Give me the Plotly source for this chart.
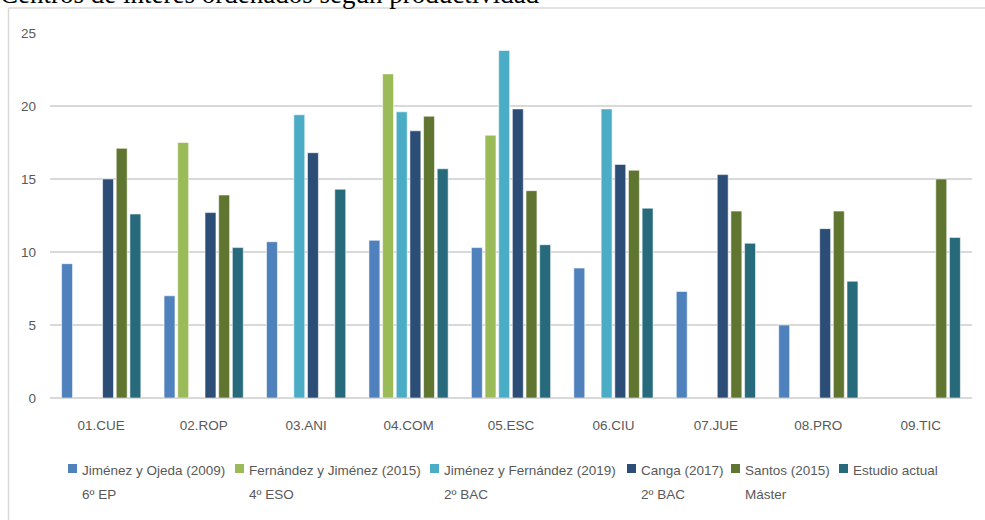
import plotly.graph_objects as go

categories = ["01.CUE", "02.ROP", "03.ANI", "04.COM", "05.ESC", "06.CIU", "07.JUE", "08.PRO", "09.TIC"]

series_names = [
    "Jiménez y Ojeda (2009)",
    "Fernández y Jiménez (2015)",
    "Jiménez y Fernández (2019)",
    "Canga (2017)",
    "Santos (2015)",
    "Estudio actual",
]
series_subtitles = ["6º EP", "4º ESO", "2º BAC", "2º BAC", "Máster", ""]

jimenez_ojeda_2009 = [9.2, 7.0, 10.7, 10.8, 10.3, 8.9, 7.3, 5.0, None]
fernandez_jimenez_2015 = [None, 17.5, None, 22.2, 18.0, None, None, None, None]
jimenez_fernandez_2019 = [None, None, 19.4, 19.6, 23.8, 19.8, None, None, None]
canga_2017 = [15.0, 12.7, 16.8, 18.3, 19.8, 16.0, 15.3, 11.6, None]
santos_2015 = [17.1, 13.9, None, 19.3, 14.2, 15.6, 12.8, 12.8, 15.0]
estudio_actual = [12.6, 10.3, 14.3, 15.7, 10.5, 13.0, 10.6, 8.0, 11.0]

y_ticks = [0, 5, 10, 15, 20, 25]
title_text = "Centros de interés ordenados según productividad"

series_values = [jimenez_ojeda_2009, fernandez_jimenez_2015, jimenez_fernandez_2019,
                 canga_2017, santos_2015, estudio_actual]
colors = ["#4F81BD", "#9BBB59", "#4BACC6", "#2C4D75", "#5F7530", "#276A7C"]

fig = go.Figure()
for name, vals, col in zip(series_names, series_values, colors):
    fig.add_trace(go.Bar(
        x=categories, y=vals, name=name, showlegend=False,
        marker=dict(color=col, line=dict(color="rgba(255,255,255,0.55)", width=1)),
    ))

W, H = 985, 520
L, R, T, B = 50, 13, 33, 122
pw, ph = W - L - R, H - T - B


def px(x):
    return (x - L) / pw


def py(y):
    return (H - B - y) / ph


font_main = "Liberation Sans, Arial, sans-serif"
txt_col = "#595959"

shapes = [
    dict(type="line", xref="paper", yref="paper", x0=px(8.5), x1=px(990), y0=py(8), y1=py(8),
         line=dict(color="#D9D9D9", width=1.5)),
    dict(type="line", xref="paper", yref="paper", x0=px(8.5), x1=px(8.5), y0=py(8), y1=py(530),
         line=dict(color="#D9D9D9", width=1.5)),
]
annotations = [
    dict(text=title_text, xref="paper", yref="paper", x=px(-2), y=py(-6),
         xanchor="left", yanchor="middle", showarrow=False,
         font=dict(family="Liberation Serif, Times New Roman, serif", size=27, color="#000000")),
]

# manual legend (positions in pixels)
marker_x = [68, 235, 430, 627, 731, 839]
text_x = [80, 247, 442, 639, 743, 851]
for i in range(len(series_names)):
    shapes.append(dict(type="rect", xref="paper", yref="paper",
                       x0=px(marker_x[i]), x1=px(marker_x[i] + 9), y0=py(464), y1=py(473),
                       fillcolor=colors[i], line=dict(width=0)))
    annotations.append(dict(text=series_names[i], xref="paper", yref="paper",
                            x=px(text_x[i]), y=py(470), xanchor="left", yanchor="middle",
                            showarrow=False, font=dict(family=font_main, size=13.5, color=txt_col)))
    if series_subtitles[i]:
        annotations.append(dict(text=series_subtitles[i], xref="paper", yref="paper",
                                x=px(text_x[i]), y=py(494), xanchor="left", yanchor="middle",
                                showarrow=False, font=dict(family=font_main, size=13.5, color=txt_col)))

fig.update_layout(
    width=W, height=H,
    margin=dict(l=L, r=R, t=T, b=B, pad=0, autoexpand=False),
    paper_bgcolor="white", plot_bgcolor="white",
    barmode="group", bargap=0.2, bargroupgap=0.2,
    font=dict(family=font_main, size=13.5, color=txt_col),
    showlegend=False,
    xaxis=dict(
        showgrid=False, showline=False, ticks="", tickfont=dict(size=13.5, color=txt_col),
        ticklabelstandoff=17,
    ),
    yaxis=dict(
        range=[0, 25], tickvals=y_ticks, showgrid=True, gridcolor="#D9D9D9", gridwidth=2,
        zeroline=True, zerolinecolor="#D9D9D9", zerolinewidth=2,
        showline=False, ticks="", tickfont=dict(size=13.5, color=txt_col), ticklabelstandoff=13,
    ),
    shapes=shapes,
    annotations=annotations,
)

fig.write_html("out.html", config={"displayModeBar": False},
               post_script="document.body.style.margin='0px';document.body.style.overflow='hidden';")
